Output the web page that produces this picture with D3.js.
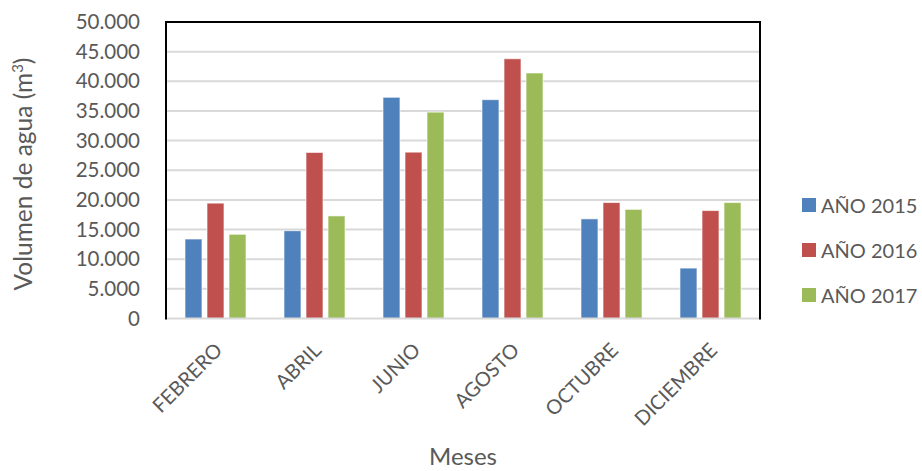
<!DOCTYPE html>
<html><head><meta charset="utf-8">
<script src="https://cdn.jsdelivr.net/npm/d3@7"></script>
<style>body{margin:0;background:#fff}svg{display:block}text{font-family:Lato,"Open Sans",sans-serif;fill:#595959}</style>
</head><body><svg id="c" width="922" height="471"></svg>
<script>
const months = ["FEBRERO","ABRIL","JUNIO","AGOSTO","OCTUBRE","DICIEMBRE"];
const seriesNames = ["AÑO 2015","AÑO 2016","AÑO 2017"];
const v2015 = [13400,14800,37300,36900,16800,8500];
const v2016 = [19450,28000,28050,43800,19550,18200];
const v2017 = [14200,17300,34800,41400,18400,19550];
const yTicks = [0,5000,10000,15000,20000,25000,30000,35000,40000,45000,50000];
const colors = ["#4F81BD","#C0504D","#9BBB59"];

const series = [v2015,v2016,v2017];
const svg = d3.select("#c");
const L=166,R=760,T=22,B=318.5;
const x0 = d3.scaleBand().domain(months).range([L,R]).paddingInner(0.384).paddingOuter(0.192);
const x1 = d3.scaleBand().domain(seriesNames).range([0,x0.bandwidth()]).paddingInner(0.23);
const y = d3.scaleLinear().domain([0,50000]).range([B,T]);
const fmt = d => d===0?"0":d3.format(",")(d).replace(/,/g,".");

// gridlines
svg.append("g").selectAll("line").data(yTicks.filter(d=>d>0&&d<50000)).join("line")
  .attr("x1",L).attr("x2",R).attr("y1",d=>y(d)).attr("y2",d=>y(d))
  .attr("stroke","#D9D9D9").attr("stroke-width",2);

// y axis labels
const ya = svg.append("g").attr("transform",`translate(${L},0)`)
  .call(d3.axisLeft(y).tickValues(yTicks).tickFormat(fmt).tickSize(0).tickPadding(26));
ya.select(".domain").remove();
ya.selectAll("text").style("font-size","20.5px").attr("fill","#595959").style("font-family","Lato");

// bars
const g = svg.append("g");
series.forEach((vals,si)=>{
  g.append("g").selectAll("rect").data(vals).join("rect")
    .attr("x",(d,i)=>x0(months[i])+x1(seriesNames[si]))
    .attr("width",x1.bandwidth())
    .attr("y",d=>y(d)).attr("height",d=>B-y(d))
    .attr("fill",colors[si]).attr("stroke","#ffffff").attr("stroke-opacity",0.6).attr("stroke-width",1);
});

// bottom axis line
svg.append("line").attr("x1",L).attr("x2",R).attr("y1",B).attr("y2",B).attr("stroke","#D9D9D9").attr("stroke-width",2);
// border top/left/right
svg.append("path").attr("d",`M${L},${B+1}V${T}H${R}V${B+1}`).attr("fill","none").attr("stroke","#000").attr("stroke-width",2);

// x labels
const xa = svg.append("g").attr("transform",`translate(0,${B})`)
  .call(d3.axisBottom(x0).tickSize(0).tickPadding(0));
xa.select(".domain").remove();
xa.selectAll("text").attr("fill","#595959").style("font-size","20px").style("font-family","Lato")
  .attr("text-anchor","end").attr("dy",0).attr("y",0)
  .attr("transform","translate(8,33) rotate(-45)");

// axis titles
svg.append("text").attr("x",463).attr("y",465).attr("text-anchor","middle").style("font-size","24px").text("Meses");
const yt = svg.append("text").attr("transform","translate(32,174) rotate(-90)").attr("text-anchor","middle").style("font-size","24.5px");
yt.append("tspan").text("Volumen de agua (m");
yt.append("tspan").text("3").style("font-size","15px").attr("dy",-9);
yt.append("tspan").text(")").attr("dy",9);

// legend
const lg = svg.append("g").selectAll("g").data(seriesNames).join("g")
  .attr("transform",(d,i)=>`translate(802,${205+i*45})`);
lg.append("rect").attr("x",0).attr("y",-7).attr("width",14).attr("height",14).attr("fill",(d,i)=>colors[i]);
lg.append("text").attr("x",19).attr("y",7.5).style("font-size","20px").text(d=>d);
</script></body></html>
